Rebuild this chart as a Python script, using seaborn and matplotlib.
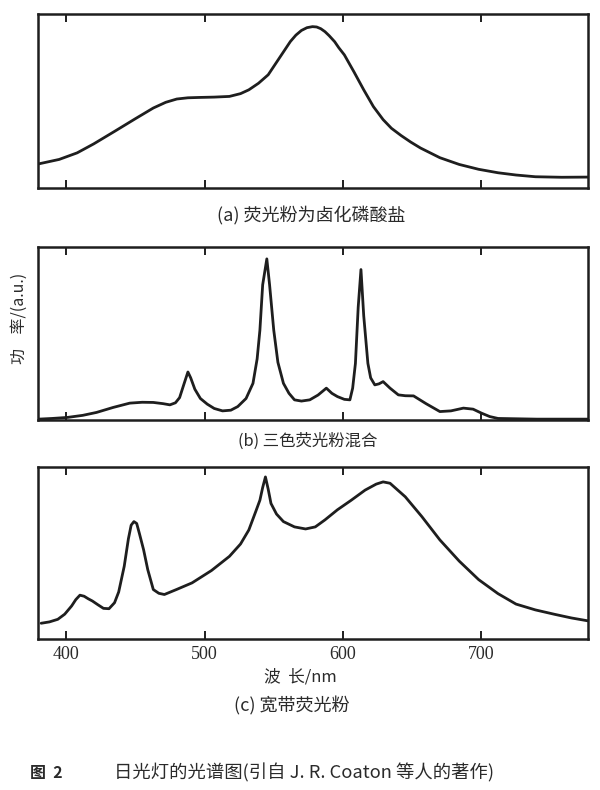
import matplotlib
matplotlib.use("Agg")
import matplotlib.pyplot as plt
import seaborn as sns
import pandas as pd

# ---- data (relative power, 0..1 of panel height) ----
wl_a = [380, 395, 408, 420, 435, 450, 463, 472, 480, 488, 496, 507, 518, 526, 532, 539,
        546, 554, 562, 566, 570, 574, 578, 581, 584, 587, 590, 594, 597, 601, 608, 615,
        622, 629, 635, 642, 649, 656, 670, 684, 698, 712, 725, 739, 758, 777]
pw_a = [0.134, 0.160, 0.198, 0.250, 0.322, 0.395, 0.457, 0.490, 0.509, 0.516, 0.518, 0.520,
        0.524, 0.540, 0.562, 0.600, 0.649, 0.745, 0.841, 0.878, 0.905, 0.921, 0.927, 0.925,
        0.915, 0.898, 0.875, 0.840, 0.805, 0.764, 0.665, 0.562, 0.465, 0.390, 0.340, 0.298,
        0.260, 0.226, 0.170, 0.131, 0.103, 0.083, 0.070, 0.060, 0.057, 0.058]

wl_b = [380, 390, 401, 412, 422, 434, 446, 455, 463, 470, 475, 479, 482, 485, 488, 490,
        493, 497, 502, 507, 513, 519, 524, 530, 535, 538, 540, 542, 545, 547, 550, 553,
        557, 561, 565, 570, 576, 582, 588, 592, 596, 601, 605, 607, 609, 611, 613, 615,
        618, 620, 623, 626, 629, 634, 640, 645, 651, 660, 670, 678, 687, 694, 700, 706,
        712, 740, 777]
pw_b = [0.000, 0.004, 0.010, 0.022, 0.039, 0.068, 0.093, 0.098, 0.097, 0.090, 0.083, 0.095,
        0.125, 0.200, 0.274, 0.240, 0.174, 0.120, 0.087, 0.062, 0.048, 0.052, 0.073, 0.120,
        0.208, 0.350, 0.517, 0.780, 0.931, 0.780, 0.517, 0.330, 0.208, 0.150, 0.112, 0.105,
        0.112, 0.140, 0.180, 0.150, 0.131, 0.115, 0.112, 0.180, 0.324, 0.650, 0.869, 0.600,
        0.324, 0.240, 0.199, 0.205, 0.218, 0.180, 0.141, 0.136, 0.135, 0.090, 0.044, 0.048,
        0.064, 0.058, 0.035, 0.015, 0.004, 0.000, 0.000]

wl_c = [382, 388, 394, 399, 404, 407, 410, 413, 416, 419, 423, 427, 431, 435, 438, 442,
        445, 447, 449, 451, 453, 456, 459, 463, 467, 471, 480, 491, 505, 518, 526, 532,
        537, 540, 542, 544, 546, 548, 552, 557, 565, 573, 580, 587, 596, 606, 616, 624,
        629, 634, 645, 657, 670, 684, 698, 712, 725, 739, 753, 765, 777]
pw_c = [0.087, 0.095, 0.110, 0.140, 0.188, 0.225, 0.251, 0.245, 0.230, 0.217, 0.195, 0.174,
        0.172, 0.207, 0.270, 0.420, 0.580, 0.660, 0.681, 0.670, 0.610, 0.516, 0.400, 0.284,
        0.262, 0.255, 0.285, 0.323, 0.395, 0.478, 0.550, 0.632, 0.740, 0.806, 0.880, 0.942,
        0.870, 0.787, 0.725, 0.681, 0.650, 0.638, 0.650, 0.691, 0.750, 0.806, 0.865, 0.900,
        0.913, 0.905, 0.826, 0.710, 0.574, 0.450, 0.342, 0.260, 0.199, 0.165, 0.139, 0.118,
        0.101]

xticks = [400, 500, 600, 700]
xtick_labels = ["400", "500", "600", "700"]
captions = ["(a) 荧光粉为卤化磷酸盐", "(b) 三色荧光粉混合", "(c) 宽带荧光粉"]
ylabel = "功    率/(a.u.)"
xlabel = "波  长/nm"
fig_no = "图  2"
fig_title = "日光灯的光谱图(引自 J. R. Coaton 等人的著作)"

# ---- style ----
sns.set_style("white")
plt.rcParams["font.family"] = ["Liberation Serif", "Noto Sans CJK SC", "DejaVu Sans"]
ink = "#1e1e1e"
txt = "#2a2a2a"
cjk = ["Noto Sans CJK SC", "DejaVu Sans"]

fig = plt.figure(figsize=(6.0, 7.9), dpi=100)
fig.patch.set_facecolor("white")

left, width = 0.064, 0.916
rects = [(left, 1 - 188 / 790, width, 174 / 790),
         (left, 1 - 420 / 790, width, 173 / 790),
         (left, 1 - 639 / 790, width, 172 / 790)]
series = [(wl_a, pw_a), (wl_b, pw_b), (wl_c, pw_c)]
cap_y = [216, 441, 706]
cap_x = [0.518, 0.513, 0.487]
cap_fs = [13, 11.8, 13]

for i, (rect, (wl, pw)) in enumerate(zip(rects, series)):
    ax = fig.add_axes(rect)
    df = pd.DataFrame({"wl": wl, "pw": pw})
    sns.lineplot(data=df, x="wl", y="pw", ax=ax, color=ink, linewidth=2.0,
                 estimator=None, sort=False)
    ax.set_xlim(380, 777)
    ax.set_ylim(-0.005, 1.0)
    ax.set_xticks(xticks)
    ax.set_yticks([])
    ax.tick_params(axis="x", direction="in", top=True, bottom=True, length=6,
                   width=1.4, color=ink, labelsize=13, labelcolor=txt, pad=5)
    if i < 2:
        ax.set_xticklabels([])
    else:
        ax.set_xticklabels(xtick_labels)
    ax.set_xlabel("")
    ax.set_ylabel("")
    for s in ax.spines.values():
        s.set_visible(True)
        s.set_color(ink)
        s.set_linewidth(1.8)
    fig.text(cap_x[i], 1 - cap_y[i] / 790, captions[i],
             ha="center", va="center", fontsize=cap_fs[i], color=txt, family=cjk)

fig.text(0.50, 1 - 677 / 790, xlabel, ha="center", va="center", fontsize=12,
         color=txt, family=cjk)
fig.text(0.033, 1 - 318 / 790, ylabel, ha="center", va="center", rotation=90,
         fontsize=11.5, color=txt, family=cjk)
fig.text(0.050, 1 - 773 / 790, fig_no, ha="left", va="center", fontsize=11.5,
         fontweight="bold", color=txt, family=cjk)
fig.text(0.190, 1 - 773 / 790, fig_title, ha="left", va="center", fontsize=13.2,
         color=txt, family=cjk)

fig.savefig("out.png", dpi=100, facecolor="white")
